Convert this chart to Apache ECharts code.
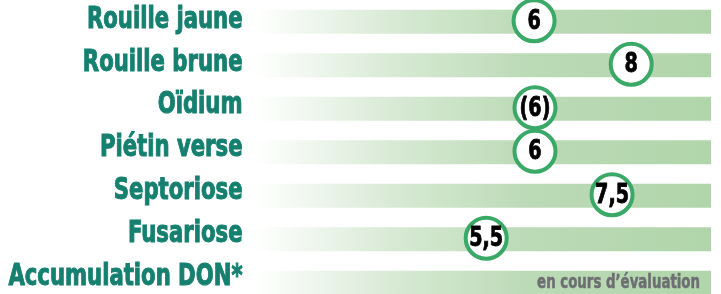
<!DOCTYPE html>
<html><head><meta charset="utf-8">
<script src="https://cdn.jsdelivr.net/npm/echarts@6/dist/echarts.min.js"></script>
<style>html,body{margin:0;padding:0;background:#fff}#c{width:721px;height:294px}</style>
</head><body><div id="c"></div>
<script>
// Categories (top to bottom)
const categories = ['Rouille jaune', 'Rouille brune', 'Oïdium', 'Piétin verse', 'Septoriose', 'Fusariose', 'Accumulation DON*'];
// Scores shown in the circles (null = not yet evaluated)
const scoreLabels = ['6', '8', '(6)', '6', '7,5', '5,5', null];
// Position of each circle on the 0–10 bar scale
const markerPos = [6.12, 8.25, 6.14, 6.14, 7.83, 5.07, null];
// Full scale of each bar
const scaleMax = [10, 10, 10, 10, 10, 10, 10];
const pendingNote = 'en cours d\u2019évaluation';

const FONT = "'Liberation Sans Narrow', 'DejaVu Sans Condensed', sans-serif";
const chart = echarts.init(document.getElementById('c'), null, {renderer: 'canvas'});

const markerData = [];
const noteData = [];
markerPos.forEach((p, i) => {
  if (p === null) noteData.push([scaleMax[i], i]);
  else markerData.push([p, i, scoreLabels[i]]);
});

chart.setOption({
  animation: false,
  backgroundColor: '#ffffff',
  grid: [
    {left: 255, right: 10, top: 0, height: 304.5, outerBoundsMode: 'none', containLabel: false},
    {left: 0, width: 243, top: -1.4, height: 299.8, outerBoundsMode: 'none', containLabel: false}
  ],
  xAxis: [
    {type: 'value', min: 0, max: 10, show: false, gridIndex: 0},
    {type: 'value', min: 0, max: 1, show: false, gridIndex: 1}
  ],
  yAxis: [
    {type: 'category', data: categories, inverse: true, show: false, gridIndex: 0},
    {type: 'category', data: categories, inverse: true, show: false, gridIndex: 1}
  ],
  series: [
    {
      type: 'bar', barWidth: 24, silent: true, xAxisIndex: 0, yAxisIndex: 0,
      data: scaleMax,
      itemStyle: {
        color: new echarts.graphic.LinearGradient(0, 0, 1, 0, [
          {offset: 0, color: '#ffffff'},
          {offset: 0.3, color: '#d8ead5'},
          {offset: 0.6, color: '#bbdab6'},
          {offset: 1, color: '#b1d5ab'}
        ])
      }
    },
    {
      // category names (condensed heavy lettering)
      type: 'custom', xAxisIndex: 1, yAxisIndex: 1, silent: true,
      data: categories.map((c, i) => [1, i]),
      encode: {x: 0, y: 1},
      renderItem: (params, api) => {
        const p = api.coord([api.value(0), api.value(1)]);
        return {
          type: 'text', x: p[0] - 0.5, y: p[1], scaleX: 0.785,
          style: {
            text: categories[params.dataIndex], fill: '#15806f',
            stroke: '#15806f', lineWidth: 1,
            fontSize: 30, fontFamily: FONT, fontWeight: 'bold',
            align: 'right', verticalAlign: 'middle'
          }
        };
      }
    },
    {
      // score circles
      type: 'custom', xAxisIndex: 0, yAxisIndex: 0, silent: true, z: 5,
      data: markerData,
      encode: {x: 0, y: 1},
      renderItem: (params, api) => {
        const p = api.coord([api.value(0), api.value(1)]);
        return {
          type: 'group', x: p[0], y: p[1] - 1,
          children: [
            {type: 'circle', shape: {cx: 0, cy: 0, r: 20.5},
             style: {fill: '#ffffff', stroke: '#3aa866', lineWidth: 4}},
            {type: 'text', x: 0, y: 1, scaleX: 0.82,
             style: {text: markerData[params.dataIndex][2], fill: '#000000',
                     stroke: '#000000', lineWidth: 0.8,
                     fontSize: 26, fontFamily: FONT, fontWeight: 'bold',
                     align: 'center', verticalAlign: 'middle'}}
          ]
        };
      }
    },
    {
      // pending-evaluation note
      type: 'custom', xAxisIndex: 0, yAxisIndex: 0, silent: true, z: 5,
      data: noteData,
      encode: {x: 0, y: 1},
      renderItem: (params, api) => {
        const p = api.coord([api.value(0), api.value(1)]);
        return {
          type: 'text', x: p[0] - 11, y: p[1], scaleX: 0.78,
          style: {text: pendingNote, fill: '#6d6e71', stroke: '#6d6e71', lineWidth: 0.5,
                  fontSize: 19, fontFamily: FONT, fontWeight: 'bold',
                  align: 'right', verticalAlign: 'middle'}
        };
      }
    }
  ]
});
</script></body></html>
